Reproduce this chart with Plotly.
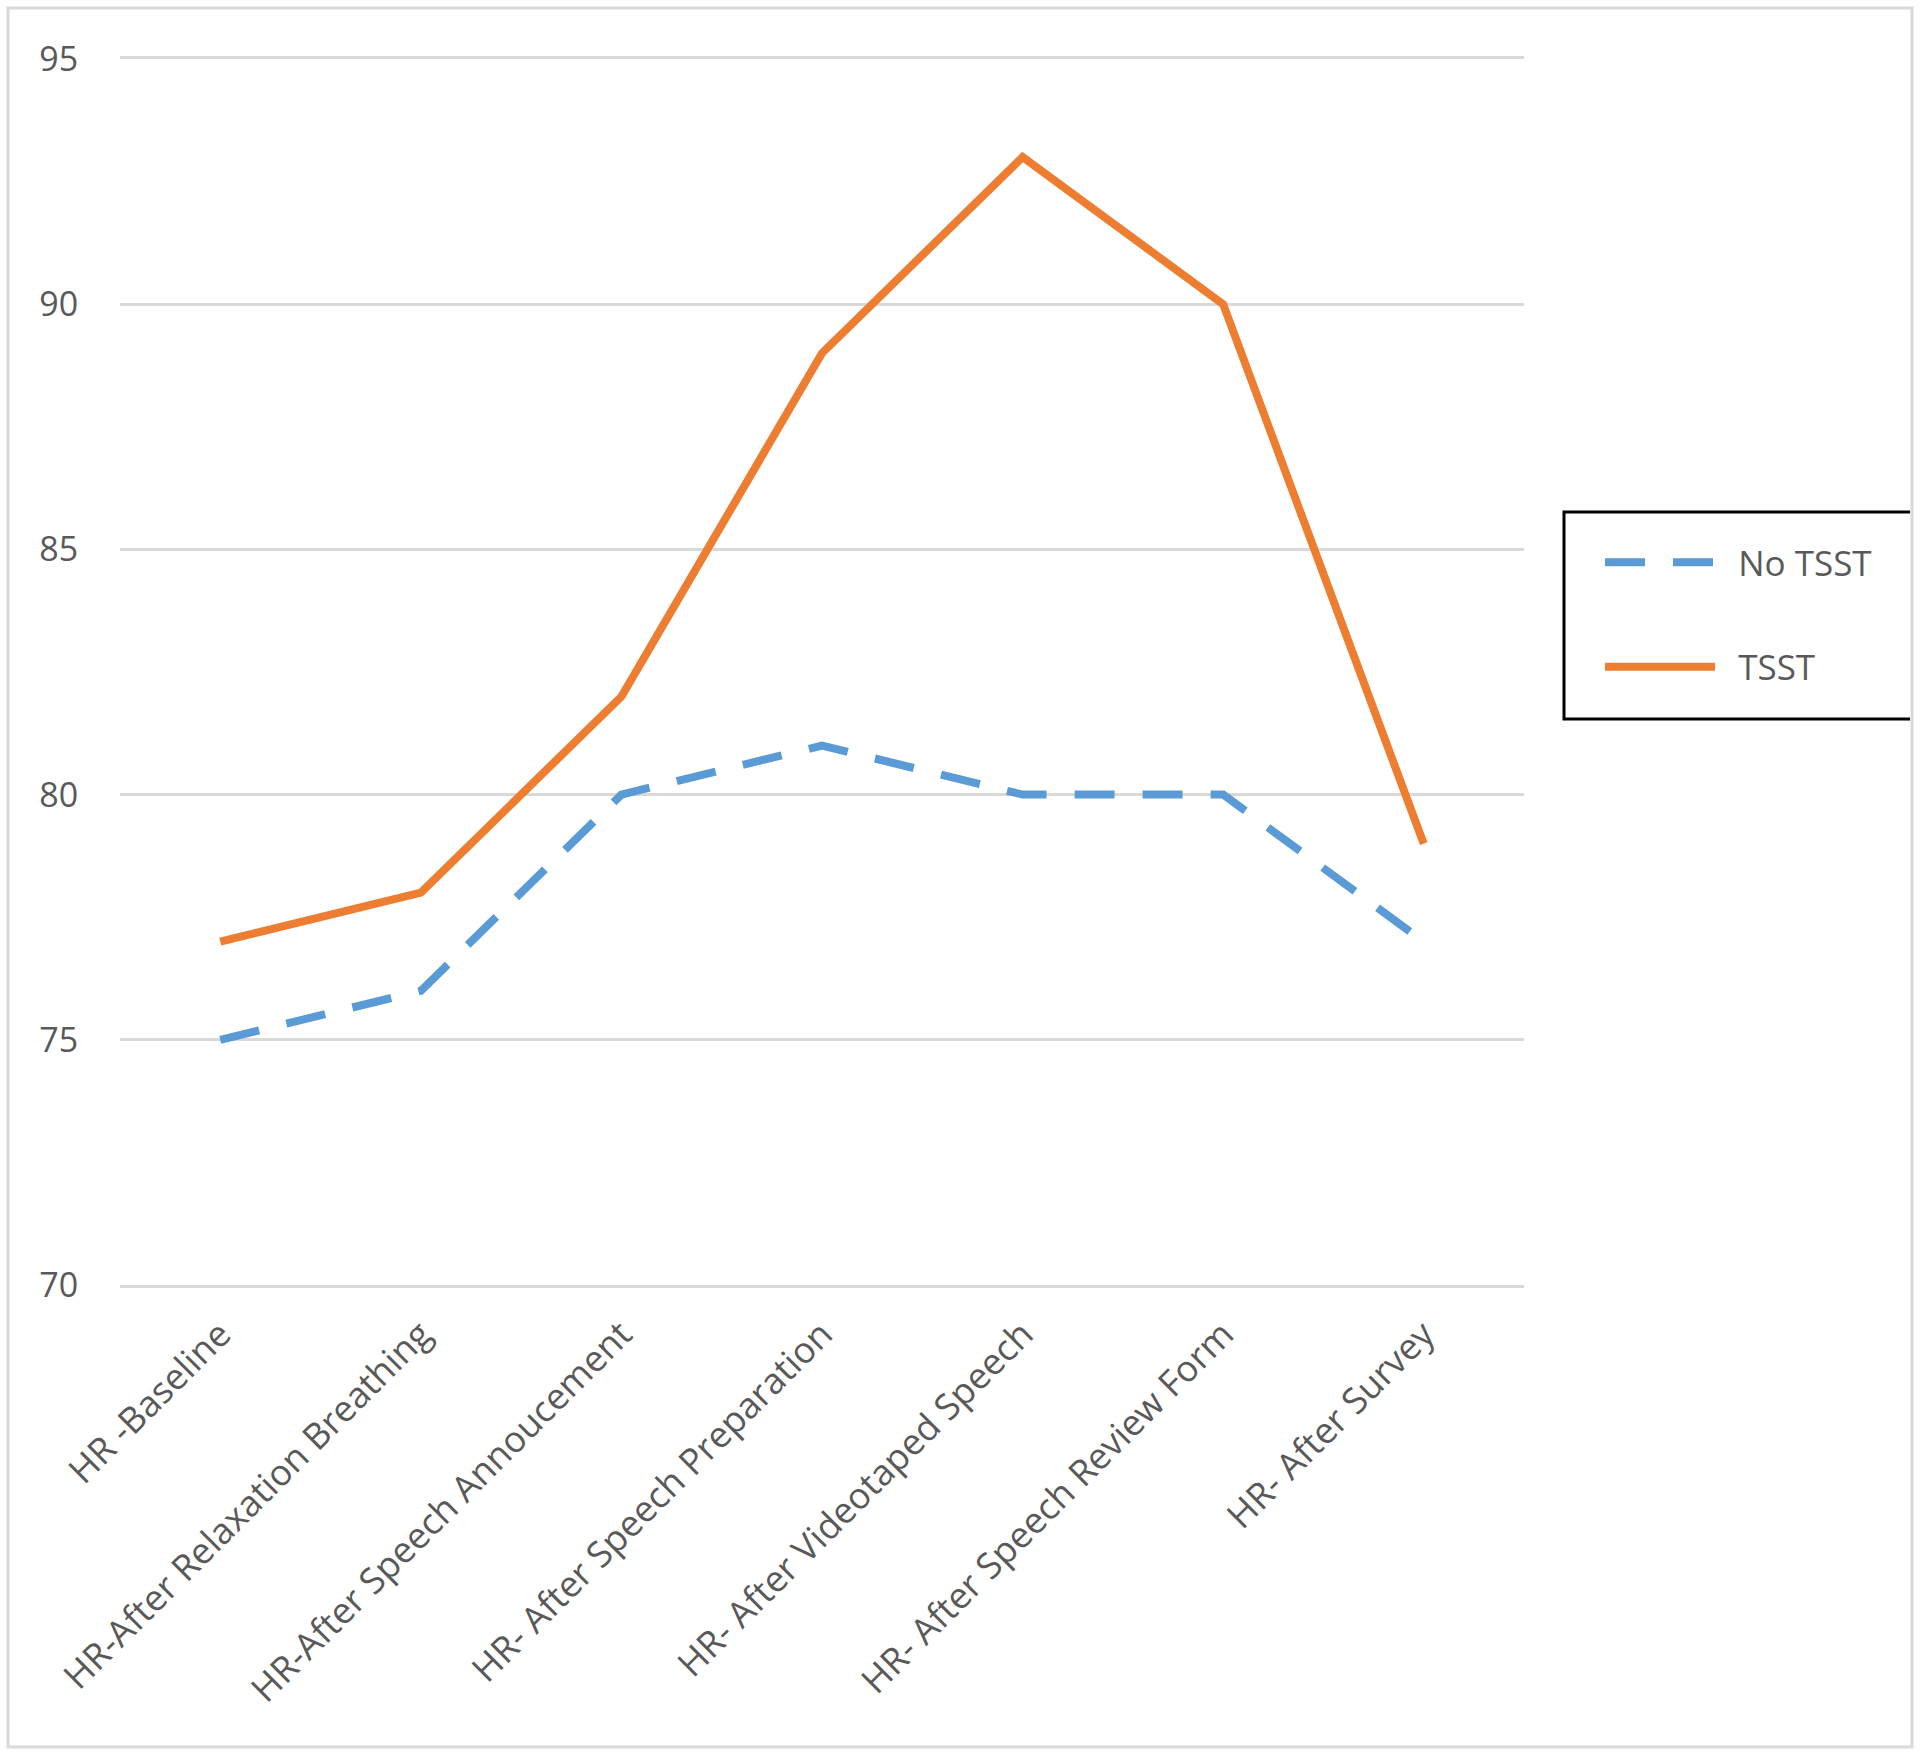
import plotly.graph_objects as go

categories = ["HR -Baseline", "HR-After Relaxation Breathing", "HR-After Speech Annoucement",
              "HR- After Speech Preparation", "HR- After Videotaped Speech",
              "HR- After Speech Review Form", "HR- After Survey"]
no_tsst = [75, 76, 80, 81, 80, 80, 77]
tsst = [77, 78, 82, 89, 93, 90, 79]

W, H = 1920, 1756
ML, MR, MT, MB = 120, 396, 59, 471
PW, PH = W - ML - MR, H - MT - MB


def px_x(x):
    return (x - ML) / PW


def px_y(y):
    return (H - MB - y) / PH


grey = "#595959"
gridc = "#d9d9d9"
font = "Open Sans, Lato, sans-serif"

fig = go.Figure()
fig.add_trace(go.Scatter(x=categories, y=no_tsst, mode="lines", name="\u00a0\u00a0No TSST",
                         legendgroup="a",
                         line=dict(color="#5B9BD5", width=8, dash="40px,28px")))
fig.add_trace(go.Scatter(x=categories, y=tsst, mode="lines", name="\u00a0\u00a0TSST",
                         legendgroup="b",
                         line=dict(color="#ED7D31", width=8)))

# outer chart border and legend frame
shapes = [
    dict(type="rect", xref="paper", yref="paper",
         x0=px_x(8), x1=px_x(1912), y0=px_y(1747), y1=px_y(8),
         line=dict(color=gridc, width=3), layer="below"),
    dict(type="path", xref="paper", yref="paper",
         path=f"M{px_x(1910)},{px_y(512)} L{px_x(1564)},{px_y(512)} "
              f"L{px_x(1564)},{px_y(719)} L{px_x(1910)},{px_y(719)}",
         line=dict(color="black", width=3)),
]

fig.update_layout(
    width=W, height=H,
    margin=dict(l=ML, r=MR, t=MT, b=MB, autoexpand=False),
    paper_bgcolor="white", plot_bgcolor="white",
    font=dict(family=font, size=35, color=grey),
    shapes=shapes,
    showlegend=True,
    legend=dict(x=px_x(1600), y=px_y(533), xanchor="left", yanchor="top",
                bgcolor="rgba(0,0,0,0)", borderwidth=0,
                itemwidth=110, tracegroupgap=56,
                font=dict(family=font, size=35, color=grey)),
    xaxis=dict(range=[-0.5, 6.5], showgrid=False, zeroline=False, automargin=False,
               showline=True, mirror=True, linecolor=gridc, linewidth=2.5,
               tickangle=-45, ticks="outside", ticklen=11,
               tickcolor="rgba(0,0,0,0)",
               tickfont=dict(family=font, size=36, color=grey)),
    yaxis=dict(range=[70, 95], dtick=5, showgrid=True, gridcolor=gridc,
               gridwidth=2.5, zeroline=False, showline=False, automargin=False,
               ticks="outside", ticklen=34, tickcolor="rgba(0,0,0,0)",
               tickfont=dict(family=font, size=34, color=grey)),
)

fig.write_html("out.html", config={"displayModeBar": False},
               post_script="document.body.style.margin='0';")
